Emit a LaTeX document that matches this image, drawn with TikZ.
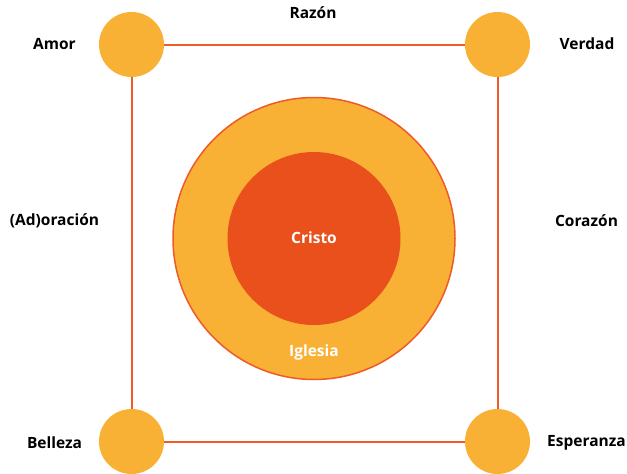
\documentclass[tikz,border=0pt]{standalone}
\usepackage{fontspec}
\setmainfont{Open Sans}
\definecolor{gold}{HTML}{F8B134}
\definecolor{redor}{HTML}{E9501C}
\definecolor{lineor}{HTML}{EE5A28}
\begin{document}
\begin{tikzpicture}[x=1pt,y=-1pt,
  dot/.style={circle,fill=gold,minimum size=65pt,inner sep=0pt},
  conn/.style={draw=lineor,line width=2pt},
  lbl/.style={font=\bfseries\fontsize{15.5}{17}\selectfont,text=black,inner sep=0pt},
  wlbl/.style={font=\bfseries\fontsize{15.5}{17}\selectfont,text=white,inner sep=0pt}]
\useasboundingbox (0,0) rectangle (627,474);
\node[dot] (tl) at (131.5,44.5) {};
\node[dot] (tr) at (497.5,44.5) {};
\node[dot] (bl) at (131.5,441.5) {};
\node[dot] (br) at (497.5,441.5) {};
\draw[conn] (tl) -- (tr);
\draw[conn] (tr) -- (br);
\draw[conn] (br) -- (bl);
\draw[conn] (bl) -- (tl);
\node[circle,fill=gold,draw=lineor,line width=1.5pt,minimum size=282pt,inner sep=0pt] (outer) at (314,238.5) {};
\node[circle,fill=redor,minimum size=173pt,inner sep=0pt] (inner) at (314,238.5) {};
\node[wlbl] (cristo) at (314,238) {Cristo};
\node[wlbl] (iglesia) at (314,352) {Iglesia};
\node[lbl] (amor) at (54.5,44) {Amor};
\node[lbl] (razon) at (313,13) {Razón};
\node[lbl] (verdad) at (587,44) {Verdad};
\node[lbl] (ador) at (54.5,221) {(Ad)oración};
\node[lbl] (corazon) at (586.5,221) {Corazón};
\node[lbl] (belleza) at (54.5,443) {Belleza};
\node[lbl] (esper) at (586.5,443) {Esperanza};
\end{tikzpicture}
\end{document}
